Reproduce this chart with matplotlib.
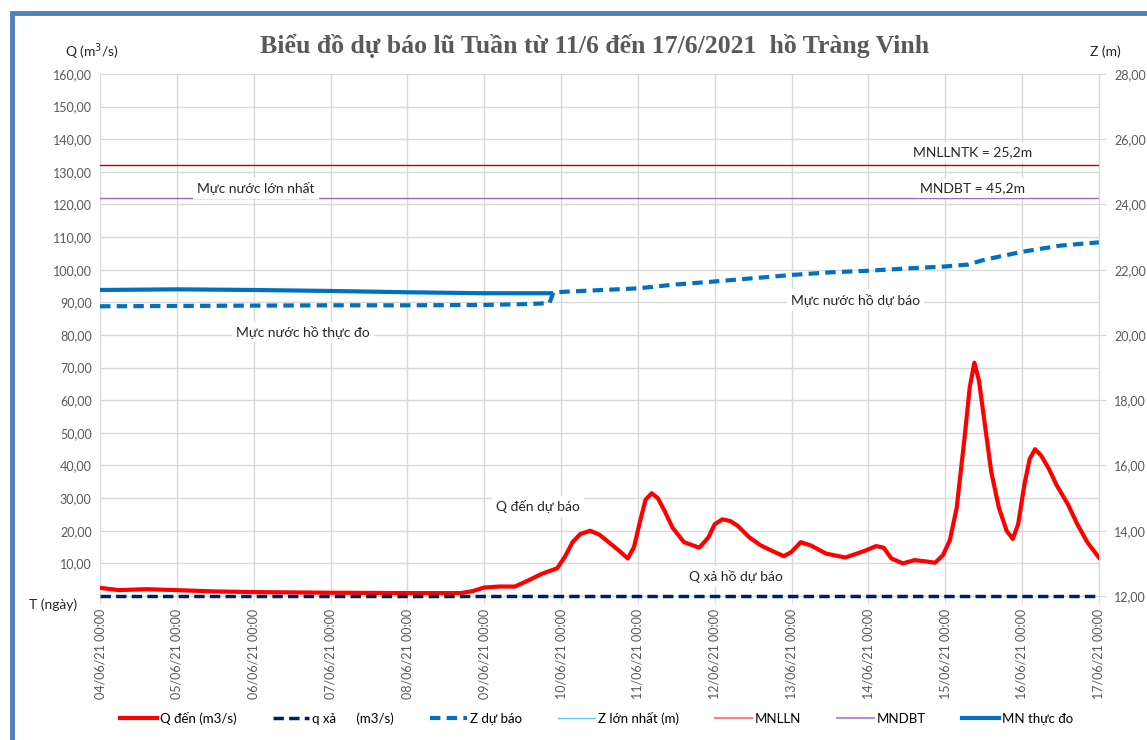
"""Biểu đồ dự báo lũ hồ Tràng Vinh — Q (left axis) and water level Z (right axis)."""
import matplotlib
matplotlib.use("Agg")
import matplotlib.pyplot as plt
from matplotlib.lines import Line2D
from matplotlib.patches import Rectangle
from matplotlib.ticker import FuncFormatter

plt.rcParams["font.family"] = ["Lato", "DejaVu Sans"]

# x tick labels (one per day)
day_labels = [f"{d:02d}/06/21 00:00" for d in range(4, 18)]

# Q đến (m3/s): (day offset from 04/06, value)
q_den_t = [0, 0.25, 0.6, 1.0, 1.5, 2, 3, 4, 4.7, 4.85, 5.0, 5.2, 5.4, 5.55, 5.75,
           5.95, 6.05, 6.15, 6.25, 6.38, 6.5, 6.62, 6.75, 6.87, 6.95, 7.03, 7.1,
           7.18, 7.26, 7.35, 7.45, 7.6, 7.8, 7.92, 8.0, 8.1, 8.2, 8.3, 8.45, 8.6,
           8.75, 8.9, 9.0, 9.12, 9.25, 9.45, 9.7, 9.95, 10.1, 10.2, 10.3, 10.45,
           10.6, 10.75, 10.87, 10.97, 11.06, 11.15, 11.25, 11.32, 11.38, 11.44,
           11.52, 11.6, 11.7, 11.8, 11.88, 11.95, 12.03, 12.1, 12.17, 12.25, 12.35,
           12.45, 12.6, 12.72, 12.85, 13.0]
q_den_v = [2.5, 1.8, 2.1, 1.8, 1.4, 1.2, 1.0, 0.9, 0.9, 1.5, 2.6, 2.9, 2.9, 4.5, 6.8,
           8.5, 12, 16.5, 19, 20, 18.8, 16.5, 14, 11.5, 15, 23, 29.5, 31.5, 30,
           26, 21, 16.5, 14.8, 18, 22, 23.5, 23, 21.5, 18, 15.5, 13.8, 12.2, 13.5,
           16.5, 15.5, 13, 11.8, 13.8, 15.3, 14.8, 11.5, 10, 11, 10.6, 10.2, 12.5,
           17, 27, 48, 64, 71.5, 66, 52, 38, 27, 20, 17.5, 22, 34, 42, 45, 43,
           39, 34, 28, 22, 16.5, 11.8]

# q xả (m3/s)
q_xa_t = [0, 13]
q_xa_v = [0, 0]

# Z dự báo (m)
z_db_t = [0, 1, 2, 3, 4, 5, 5.6, 5.85, 5.9, 6.0, 7.0, 7.5, 8.0, 8.5, 9.0, 9.5,
          10.0, 10.5, 11.0, 11.3, 11.5, 12.0, 12.5, 13.0]
z_db_v = [20.88, 20.89, 20.90, 20.91, 20.91, 20.92, 20.95, 20.98, 21.30, 21.32,
          21.43, 21.55, 21.64, 21.74, 21.84, 21.92, 21.97, 22.04, 22.10, 22.16,
          22.30, 22.55, 22.74, 22.84]

# MN thực đo (m)
z_td_t = [0, 1, 2, 3, 4, 5, 5.9]
z_td_v = [21.38, 21.40, 21.38, 21.35, 21.31, 21.28, 21.28]

mnlln = 25.2
mndbt = 24.2

fig = plt.figure(figsize=(11.47, 7.40), dpi=100)
ax = fig.add_axes([0.0872, 0.1946, 0.8708, 0.7054])
ax2 = ax.twinx()

grid_c = "#d9d9d9"
txt_c = "#595959"

ax.set_xlim(0, 13)
ax.set_ylim(0, 160)
ax2.set_ylim(12, 28)
ax.set_xticks(range(14))
ax.set_xticklabels(day_labels, rotation=90, fontsize=9, color=txt_c)
ax.set_yticks(range(0, 161, 10))
ax.yaxis.set_major_formatter(FuncFormatter(lambda v, p: "" if v == 0 else f"{v:.2f}".replace(".", ",")))
ax2.set_yticks(range(12, 29, 2))
ax2.yaxis.set_major_formatter(FuncFormatter(lambda v, p: f"{v:.2f}".replace(".", ",")))
ax.tick_params(axis="y", length=0, labelsize=9, labelcolor=txt_c, pad=6)
ax.tick_params(axis="x", length=5, color=grid_c, pad=4)
ax2.tick_params(axis="y", length=5, color=grid_c, labelsize=9, labelcolor=txt_c, pad=6)
ax.grid(True, color=grid_c, lw=1)
ax.set_axisbelow(True)
for a in (ax, ax2):
    for s in ("top", "left"):
        a.spines[s].set_visible(False)
    a.spines["right"].set_color(grid_c)
    a.spines["bottom"].set_color(grid_c)

# lines (level lines on right axis)
ax2.axhline(mnlln, color="#c00000", lw=1, zorder=2)
ax2.axhline(mndbt, color="#9966cc", lw=1, zorder=2)
ax2.plot(z_td_t, z_td_v, color="#0070c0", lw=3, solid_capstyle="butt", zorder=3)
ax2.plot(z_db_t, z_db_v, color="#0070c0", lw=3, ls=(0, (2.5, 1.5)), zorder=3)
ax2.plot(q_den_t, [12 + v / 10 for v in q_den_v], color="#ff0000", lw=3,
         solid_joinstyle="round", zorder=4)
ax2.plot(q_xa_t, [12 + v / 10 for v in q_xa_v], color="#002060", lw=2.5,
         ls=(0, (3, 1.5)), zorder=4, clip_on=False)

# annotations with white boxes
box = dict(facecolor="white", edgecolor="none", pad=3)
notes = [
    ("MNLLNTK = 25,2m", 11.36, 25.6),
    ("MNDBT = 45,2m", 11.36, 24.5),
    ("Mực nước lớn nhất", 2.03, 24.5),
    ("Mực nước hồ thực đo", 2.64, 20.08),
    ("Mực nước hồ dự báo", 9.83, 21.07),
    ("Q đến dự báo", 5.7, 14.75),
    ("Q xả hồ dự báo", 8.28, 12.6),
]
for s, x, y in notes:
    ax2.text(x, y, s, ha="center", va="center", fontsize=10, color="#262626",
             bbox=box, zorder=5)

fig.text(0.5185, 0.938, "Biểu đồ dự báo lũ Tuần từ 11/6 đến 17/6/2021  hồ Tràng Vinh",
         ha="center", va="center", fontsize=18.5, fontweight="bold",
         family=["Liberation Serif", "DejaVu Serif"], color="#595959")
fig.text(0.080, 0.930, "Q (m$^3$/s)", ha="center", va="center", fontsize=10, color="#262626")
fig.text(0.964, 0.930, "Z (m)", ha="center", va="center", fontsize=10, color="#262626")
fig.text(0.046, 0.183, "T (ngày)", ha="center", va="center", fontsize=10, color="#262626")

handles = [
    Line2D([], [], color="#ff0000", lw=3),
    Line2D([], [], color="#002060", lw=2.5, ls=(0, (3, 1.5))),
    Line2D([], [], color="#0070c0", lw=3, ls=(0, (2.5, 1.5))),
    Line2D([], [], color="#5bc8f5", lw=1),
    Line2D([], [], color="#ff7c80", lw=1.5),
    Line2D([], [], color="#b38fd6", lw=1.5),
    Line2D([], [], color="#0070c0", lw=3),
]
labels = ["Q đến (m3/s)", "q xả      (m3/s)", "Z dự báo", "Z lớn nhất (m)",
          "MNLLN", "MNDBT", "MN thực đo"]
fig.legend(handles, labels, loc="center", bbox_to_anchor=(0.52, 0.029), ncol=7,
           frameon=False, fontsize=9.5, handlelength=2.8, handletextpad=0.2,
           columnspacing=2.75)

# chart frame
fig.patches.append(Rectangle((0.0105, -0.05), 1.1, 1.033, transform=fig.transFigure,
                             fill=False, edgecolor="#4f81bd", lw=3.5))

fig.savefig("out.png", dpi=100)
